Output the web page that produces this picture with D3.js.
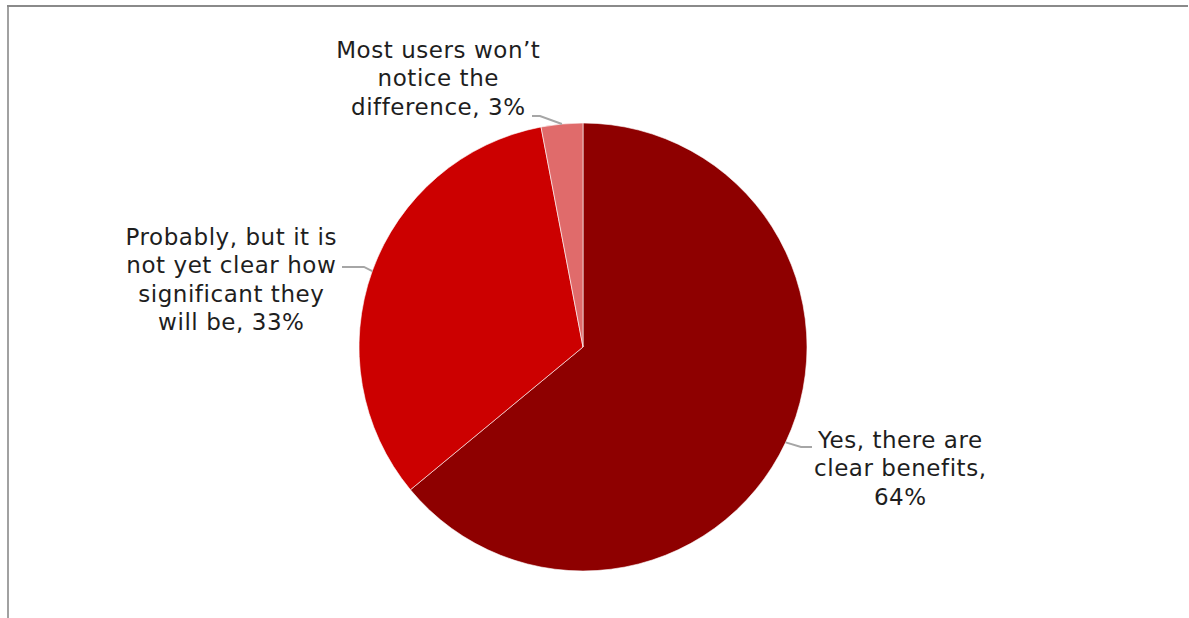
<!DOCTYPE html>
<html>
<head>
<meta charset="utf-8">
<script src="https://cdn.jsdelivr.net/npm/d3@7"></script>
<style>
  html, body { margin: 0; padding: 0; background: #fff; }
  svg { display: block; }
</style>
</head>
<body>
<svg id="chart" width="1189" height="618"></svg>
<script>
// Survey answers and their shares (percent)
const categories = [
  "Yes, there are clear benefits",
  "Probably, but it is not yet clear how significant they will be",
  "Most users won\u2019t notice the difference"
];
const values = [64, 33, 3];
const colors = ["#8e0000", "#cc0000", "#e06b6b"];

// Label text broken into lines, with the value appended on the last line
const labelLines = [
  ["Yes, there are", "clear benefits,", "64%"],
  ["Probably, but it is", "not yet clear how", "significant they", "will be, 33%"],
  ["Most users won\u2019t", "notice the", "difference, 3%"]
];

const W = 1189, H = 618;
const svg = d3.select("#chart");

// Frame of the chart area
svg.append("line").attr("x1", 7).attr("x2", 1188).attr("y1", 6).attr("y2", 6)
  .attr("stroke", "#8a8a8a").attr("stroke-width", 2);
svg.append("line").attr("x1", 8).attr("x2", 8).attr("y1", 5).attr("y2", H)
  .attr("stroke", "#8a8a8a").attr("stroke-width", 1.6);

// Descender of the heading line above the frame
svg.append("text").attr("x", 6).attr("y", -4)
  .attr("font-family", "DejaVu Sans").attr("font-weight", "bold").attr("font-style", "italic")
  .attr("font-size", 22).attr("fill", "#000").text("y");

const cx = 583, cy = 347, r = 224;
const g = svg.append("g").attr("transform", `translate(${cx},${cy})`);

const pie = d3.pie().sort(null).value(d => d)(values);
const arc = d3.arc().innerRadius(0).outerRadius(r);

g.selectAll("path.slice").data(pie).join("path")
  .attr("class", "slice")
  .attr("d", arc)
  .attr("fill", (d, i) => colors[i])
  .attr("stroke", "#ffffff")
  .attr("stroke-width", 0.6);

// Label placement: centre x, first baseline, and leader line end points
const labelLayout = [
  { x: 900, y: 448, leader: [[801, 447], [812, 447]] },
  { x: 231, y: 245, leader: [[364, 267], [342, 267]] },
  { x: 438, y: 58, leader: [[540, 116], [532, 116]] }
];

const fs = 23, lh = 28.3;
pie.forEach((d, i) => {
  const mid = (d.startAngle + d.endAngle) / 2;
  const px = cx + r * Math.sin(mid), py = cy - r * Math.cos(mid);
  const L = labelLayout[i];
  const pts = [[px, py], ...L.leader];
  svg.append("path")
    .attr("d", d3.line()(pts))
    .attr("fill", "none")
    .attr("stroke", "#a6a6a6")
    .attr("stroke-width", 1.9);
  const t = svg.append("text")
    .attr("font-family", "DejaVu Sans")
    .attr("font-size", fs)
    .attr("letter-spacing", 0.55)
    .attr("fill", "#1e1e1e")
    .attr("text-anchor", "middle");
  labelLines[i].forEach((line, j) => {
    t.append("tspan").attr("x", L.x + 0.3).attr("y", L.y + j * lh).text(line);
  });
});
</script>
</body>
</html>
